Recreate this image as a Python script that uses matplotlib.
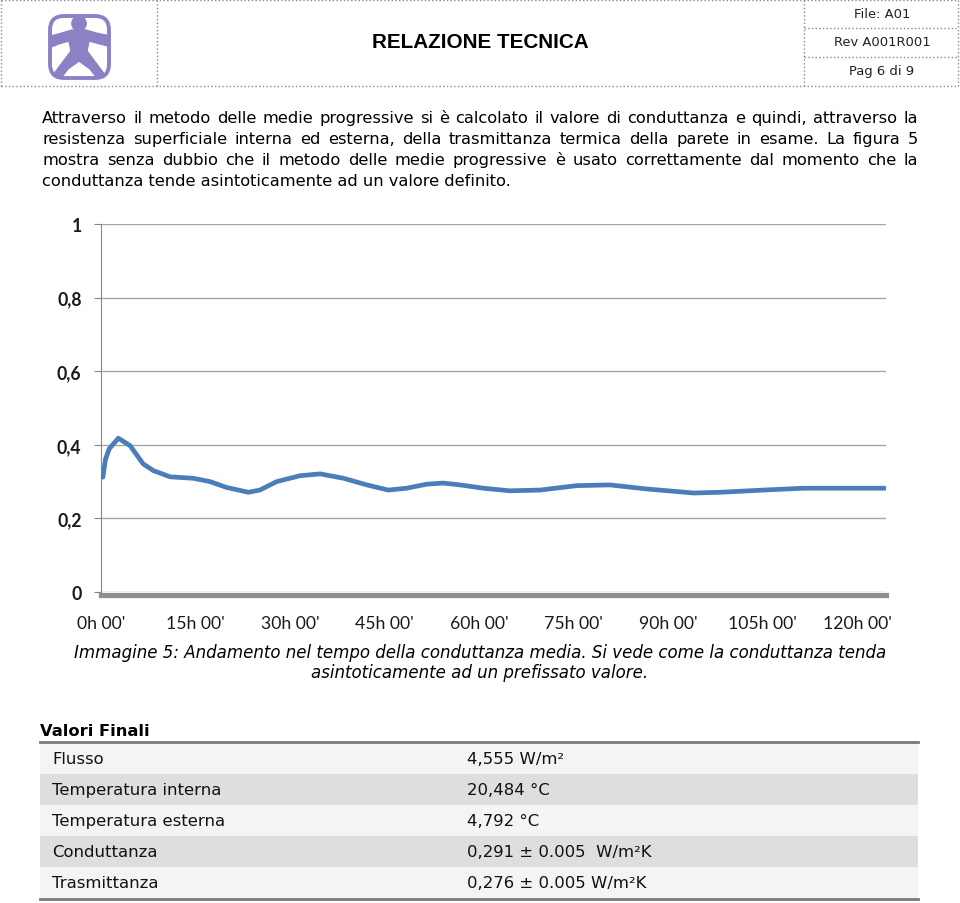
import numpy as np
import matplotlib.pyplot as plt
from matplotlib.patches import FancyBboxPatch, Polygon, Circle, Rectangle

# --- dati del grafico ---
ore = [0.3, 0.7, 1.3, 2.75, 4.6, 6.7, 8.3, 10.95, 14.65, 17.3, 19.95, 23.4,
       25.2, 27.9, 31.6, 34.8, 38.5, 42.2, 45.6, 48.5, 51.7, 54.3, 57.0, 60.7,
       64.9, 69.7, 75.5, 80.8, 86.6, 94.1, 98.3, 105.1, 111.5, 118.4, 124.4]
conduttanza = [0.312, 0.360, 0.389, 0.418, 0.398, 0.348, 0.330, 0.313, 0.309,
               0.300, 0.284, 0.271, 0.277, 0.300, 0.316, 0.321, 0.309, 0.291,
               0.277, 0.282, 0.293, 0.296, 0.291, 0.282, 0.275, 0.277, 0.289,
               0.291, 0.280, 0.269, 0.271, 0.277, 0.282, 0.282, 0.282]
tick_ore = [0, 15, 30, 45, 60, 75, 90, 105, 120]
tick_etichette = ["0h 00'", "15h 00'", "30h 00'", "45h 00'", "60h 00'",
                  "75h 00'", "90h 00'", "105h 00'", "120h 00'"]
tick_y = [0, 0.2, 0.4, 0.6, 0.8, 1]
etichette_y = ['0', '0,2', '0,4', '0,6', '0,8', '1']

# --- tabella valori finali ---
voci = ['Flusso', 'Temperatura interna', 'Temperatura esterna',
        'Conduttanza', 'Trasmittanza']
valori = ['4,555 W/m²', '20,484 °C', '4,792 °C',
          '0,291 ± 0.005  W/m²K', '0,276 ± 0.005 W/m²K']

testo = [
    "Attraverso il metodo delle medie progressive si è calcolato il valore di conduttanza e quindi, attraverso la",
    "resistenza superficiale interna ed esterna, della trasmittanza termica della parete in esame. La figura 5",
    "mostra senza dubbio che il metodo delle medie progressive è usato correttamente dal momento che la",
    "conduttanza tende asintoticamente ad un valore definito.",
]
didascalia = [
    "Immagine 5: Andamento nel tempo della conduttanza media. Si vede come la conduttanza tenda",
    "asintoticamente ad un prefissato valore.",
]

W, H = 960, 904
fig = plt.figure(figsize=(W / 100, H / 100), dpi=100)
pag = fig.add_axes([0, 0, 1, 1])
pag.set_xlim(0, W)
pag.set_ylim(H, 0)
pag.axis('off')
rend = fig.canvas.get_renderer()


def larghezza(s, **kw):
    t = pag.text(0, 0, s, **kw)
    w = t.get_window_extent(rend).width
    t.remove()
    return w


def size_per(s, w, **kw):
    return 10 * w / larghezza(s, fontsize=10, **kw)


# --- intestazione ---
grigio_bordo = '#8a8a8a'
for x in [1, 157, 804, 958]:
    pag.plot([x, x], [1, 87], ls=':', color=grigio_bordo, lw=1)
for y in [1, 87]:
    pag.plot([1, 958], [y, y], ls=':', color=grigio_bordo, lw=1)
for y in [28.5, 57.5]:
    pag.plot([804, 958], [y, y], ls=':', color=grigio_bordo, lw=1)

# logo
viola = '#8b82c6'
pag.add_patch(FancyBboxPatch((50, 17), 59, 62, boxstyle='round,pad=0,rounding_size=14',
                             fill=False, ec=viola, lw=2.8))
pag.add_patch(Circle((79, 24.5), 7.2, color=viola))
omino = [(72, 31), (62, 34), (51, 37), (51, 48), (60, 44.5), (69, 42), (71, 52),
         (62, 64), (53, 76), (57, 79), (61, 79), (68, 70), (79, 62), (90, 70),
         (97, 79), (101, 79), (105, 76), (96, 64), (87, 52), (89, 42), (98, 44.5),
         (108, 47), (108, 36.5), (96, 34), (86, 31)]
pag.add_patch(Polygon(omino, closed=True, color=viola))

s_tit = size_per('RELAZIONE TECNICA', 215, family='Liberation Sans', weight='bold')
pag.text(480, 43, 'RELAZIONE TECNICA', fontsize=s_tit, family='Liberation Sans',
         weight='bold', ha='center', va='center')
s_hdr = size_per('Rev A001R001', 96)
for y, s in zip([14.5, 43, 72], ['File: A01', 'Rev A001R001', 'Pag 6 di 9']):
    pag.text(882, y, s, fontsize=s_hdr, ha='center', va='center', color='#222222')

# --- paragrafo giustificato ---
X0, X1 = 42, 918
s_par = size_per(testo[3], 471)
for i, riga in enumerate(testo):
    y = 123 + i * 21.1
    parole = riga.split()
    if i == len(testo) - 1:
        pag.text(X0, y, riga, fontsize=s_par, va='baseline')
        continue
    ws = [larghezza(p, fontsize=s_par) for p in parole]
    gap = (X1 - X0 - sum(ws)) / (len(parole) - 1)
    x = X0
    for p, w in zip(parole, ws):
        pag.text(x, y, p, fontsize=s_par, va='baseline')
        x += w + gap

# --- grafico ---
ax = fig.add_axes([101 / W, 1 - 593 / H, 785 / W, 368 / H])
ax.plot(ore, conduttanza, color='#4a7ebb', lw=3.4, solid_joinstyle='round',
        solid_capstyle='round', zorder=3)
ax.set_xlim(0, 124.6)
ax.set_ylim(0, 1)
ax.set_yticks(tick_y)
ax.grid(axis='y', color='#a6a6a6', lw=1)
ax.set_axisbelow(True)
for lato in ['top', 'right']:
    ax.spines[lato].set_visible(False)
ax.spines['left'].set_color('#868686')
ax.spines['bottom'].set_color('#8f8f8f')
ax.spines['bottom'].set_linewidth(3.8)
ax.spines['bottom'].set_position(('outward', 1.8))
ax.spines['bottom'].set_zorder(4)

s_x = size_per("120h 00'", 69, family='Lato')
ax.set_xticks(tick_ore)
ax.set_xticklabels(tick_etichette, fontsize=s_x, family='Lato', color='#1a1a1a')
ax.tick_params(axis='x', length=0, pad=15)
ax.set_yticklabels(etichette_y, fontsize=s_x, family='Lato', weight='bold', color='#1a1a1a')
ax.tick_params(axis='y', length=5, color='#868686', pad=9)

# --- didascalia ---
s_cap = size_per(didascalia[0], 813, style='italic')
pag.text(480, 653, didascalia[0], fontsize=s_cap, style='italic', ha='center', va='center')
pag.text(480, 673, didascalia[1], fontsize=s_cap, style='italic', ha='center', va='center')

# --- tabella ---
s_vf = size_per('Valori Finali', 109, weight='bold')
pag.text(40, 732, 'Valori Finali', fontsize=s_vf, weight='bold', va='center')
s_tab = size_per('Temperatura interna', 169)
bordi = [744, 775, 806, 837, 868, 899]
for i, (voce, val) in enumerate(zip(voci, valori)):
    col = '#dedede' if i % 2 else '#f4f4f4'
    pag.add_patch(Rectangle((40, bordi[i]), 878, bordi[i + 1] - bordi[i], color=col, lw=0))
    yc = (bordi[i] + bordi[i + 1]) / 2
    pag.text(52, yc, voce, fontsize=s_tab, va='center', color='#111111')
    pag.text(467, yc, val, fontsize=s_tab, va='center', color='#111111')
pag.plot([40, 918], [743, 743], color='#7a7a7a', lw=2)
pag.plot([40, 918], [900, 900], color='#7a7a7a', lw=2)

fig.savefig('out.png', dpi=100)
